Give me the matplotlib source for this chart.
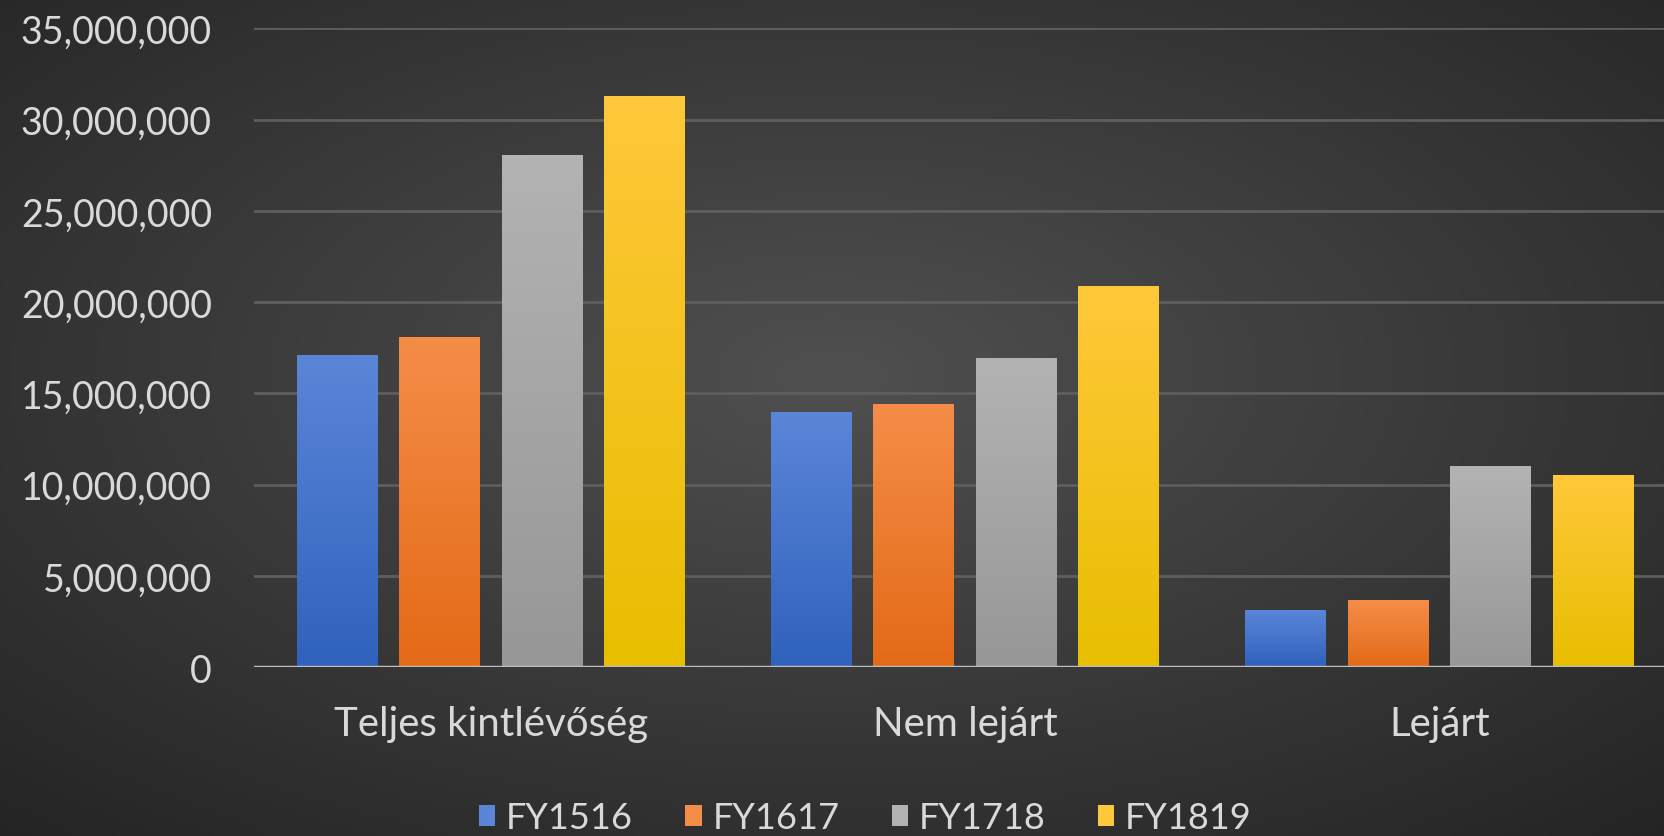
import numpy as np
import matplotlib.pyplot as plt
from matplotlib.ticker import FuncFormatter
from matplotlib.patches import Patch
from matplotlib.colors import to_rgb

plt.rcParams['font.family'] = ['Lato', 'DejaVu Sans']

categories = ["Teljes kintlévőség", "Nem lejárt", "Lejárt"]
series = ["FY1516", "FY1617", "FY1718", "FY1819"]
fy1516 = [17100000, 14000000, 3150000]
fy1617 = [18100000, 14400000, 3650000]
fy1718 = [28050000, 16950000, 11000000]
fy1819 = [31300000, 20900000, 10500000]
values = [fy1516, fy1617, fy1718, fy1819]
y_ticks = [0, 5000000, 10000000, 15000000, 20000000, 25000000, 30000000, 35000000]

top_colors = ["#5b86d8", "#f58d48", "#b3b3b3", "#ffc83a"]
bottom_colors = ["#2f62bd", "#e36a17", "#979797", "#e8be00"]
text_color = "#d9d9d9"

fig = plt.figure(figsize=(16.64, 8.37), dpi=100)

# радиальный фон
bg = fig.add_axes([0, 0, 1, 1], zorder=-1)
yy, xx = np.mgrid[0:1:200j, 0:1:400j]
r = np.sqrt(((xx - 0.5) / 0.75) ** 2 + ((yy - 0.45) / 0.75) ** 2)
r = np.clip(r, 0, 1)
lev = 0x50 / 255 * (1 - r) + 0x24 / 255 * r
bg.imshow(np.dstack([lev, lev, lev]), extent=(0, 1, 0, 1), aspect='auto', origin='upper')
bg.axis('off')

ax = fig.add_axes([0.1524, 0.2019, 0.855, 0.7631])
ax.patch.set_alpha(0)

x = np.arange(len(categories))
width = 0.170
pitch = 0.216
for i, vals in enumerate(values):
    pos = x + (i - 1.5) * pitch
    bars = ax.bar(pos, vals, width, color='none', edgecolor='none', zorder=3)
    c1 = np.array(to_rgb(top_colors[i]))
    c2 = np.array(to_rgb(bottom_colors[i]))
    t = np.linspace(0, 1, 128)[:, None, None]
    grad = c1 * (1 - t) + c2 * t
    for b in bars:
        im = ax.imshow(grad, extent=(b.get_x(), b.get_x() + b.get_width(), 0, b.get_height()),
                       aspect='auto', origin='upper', zorder=3)
        im.set_clip_path(b)

ax.set_xlim(-0.5, 2.5)
ax.set_ylim(0, 35000000)
ax.set_yticks(y_ticks)
ax.yaxis.set_major_formatter(FuncFormatter(lambda v, p: f"{int(v):,}"))
ax.set_xticks(x)
ax.set_xticklabels(categories)
ax.tick_params(axis='y', length=0, pad=30, labelsize=27, labelcolor=text_color)
ax.tick_params(axis='x', length=0, pad=27, labelsize=29, labelcolor=text_color)
for s in ax.spines.values():
    s.set_visible(False)
for v in y_ticks[1:]:
    ax.axhline(v, color='#5e5e5e', lw=2, zorder=1)
ax.axhline(0, color='#bdbdbd', lw=2.5, zorder=4)

handles = [Patch(facecolor=c, edgecolor='none') for c in top_colors]
fig.legend(handles, series, loc='center', bbox_to_anchor=(0.52, 0.022), ncol=4, frameon=False,
           fontsize=26, labelcolor=text_color, handlelength=0.45, handleheight=0.5,
           handletextpad=0.3, columnspacing=1.45)

fig.savefig("out.png", dpi=100)
